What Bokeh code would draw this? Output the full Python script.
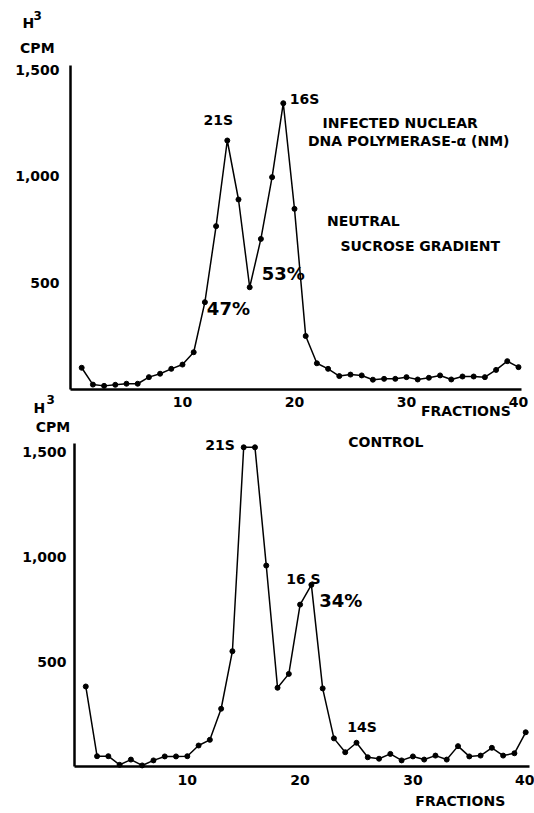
from bokeh.plotting import figure
from bokeh.models import Range1d, FixedTicker, NumeralTickFormatter, Label
from bokeh.layouts import column
from bokeh.embed import file_html
from bokeh.resources import INLINE

# ---------------- data ----------------
fractions = list(range(1, 41))

infected_cpm = [102, 23, 17, 22, 27, 27, 58, 74, 97, 117,
                175, 410, 767, 1169, 892, 480, 707, 997, 1344, 848,
                251, 123, 97, 63, 70, 66, 46, 50, 50, 58,
                47, 55, 66, 47, 61, 61, 58, 92, 133, 105]

control_cpm = [381, 49, 49, 8, 33, 5, 29, 48, 48, 49,
               100, 127, 275, 549, 1520, 1520, 957, 375, 441, 771,
               865, 372, 134, 68, 113, 44, 37, 60, 29, 48,
               33, 52, 33, 97, 48, 52, 89, 52, 63, 163]

x_ticks = [10, 20, 30, 40]
y_ticks = [500, 1000, 1500]

FONT = "DejaVu Sans"


def make_fig(height, xr, yr, xbounds, ybounds, ystandoff):
    # the frame fills the whole canvas; axes are pinned at the data origin
    p = figure(width=534, height=height,
               x_range=Range1d(*xr), y_range=Range1d(*yr),
               output_backend="svg", toolbar_location=None,
               min_border=0, min_border_left=0, min_border_right=0,
               min_border_top=0, min_border_bottom=0)
    p.xgrid.visible = False
    p.ygrid.visible = False
    p.outline_line_color = None
    p.background_fill_color = "white"
    p.border_fill_color = "white"
    for ax in (p.xaxis[0], p.yaxis[0]):
        ax.fixed_location = 0
        ax.axis_line_width = 2.5
        ax.axis_line_color = "black"
        ax.major_tick_line_color = None
        ax.minor_tick_line_color = None
        ax.major_tick_out = 0
        ax.major_tick_in = 0
        ax.major_label_text_font = FONT
        ax.major_label_text_font_size = "14px"
        ax.major_label_text_font_style = "bold"
        ax.major_label_text_color = "black"
    p.xaxis[0].bounds = xbounds
    p.yaxis[0].bounds = ybounds
    p.xaxis.ticker = FixedTicker(ticks=x_ticks)
    p.yaxis.ticker = FixedTicker(ticks=y_ticks)
    p.yaxis.formatter = NumeralTickFormatter(format="0,0")
    p.xaxis.major_label_standoff = 8
    p.yaxis.major_label_standoff = ystandoff
    return p


def add_label(p, x, y, text, size="14px", align="center", style="bold"):
    p.add_layout(Label(x=x, y=y, text=text, text_font=FONT,
                       text_font_size=size, text_font_style=style,
                       text_color="black", text_align=align,
                       text_baseline="middle"))


# ---------------- top panel ----------------
top = make_fig(434, (-6.25, 41.43), (-211.3, 1826.3), (0, 40.3), (0, 1521), 11)
top.line(fractions, infected_cpm, line_width=1.5, color="black")
top.scatter(fractions, infected_cpm, size=5, color="black")

add_label(top, 13.2, 1263, "21S")
add_label(top, 20.9, 1366, "16S")
add_label(top, 22.5, 1249, "INFECTED NUCLEAR", align="left")
add_label(top, 21.2, 1169, "DNA POLYMERASE-\u03b1 (NM)", align="left")
add_label(top, 22.9, 789, "NEUTRAL", align="left")
add_label(top, 24.1, 676, "SUCROSE  GRADIENT", align="left")
add_label(top, 19.0, 545, "53%", size="18px")
add_label(top, 14.1, 380, "47%", size="18px")
# y-axis heading "H3 CPM" of the upper panel
add_label(top, -4.29, 1723, "H", align="left")
add_label(top, -3.3, 1756, "3", size="12px", align="left")
add_label(top, -4.5, 1601, "CPM", align="left")
add_label(top, 35.3, -103, "FRACTIONS")
# y-axis heading of the lower panel (sits in the strip above it)
add_label(top, -3.3, -89, "H", align="left")
add_label(top, -2.14, -47, "3", size="12px", align="left")
add_label(top, -3.1, -178, "CPM", align="left")

# ---------------- bottom panel ----------------
bot = make_fig(379, (-6.56, 40.78), (-223.8, 1581), (0, 40.3), (0, 1538), 8)
bot.line(fractions, control_cpm, line_width=1.5, color="black")
bot.scatter(fractions, control_cpm, size=5, color="black")

add_label(bot, 12.9, 1533, "21S")
add_label(bot, 27.6, 1543, "CONTROL")
add_label(bot, 20.3, 895, "16 S")
add_label(bot, 23.6, 790, "34%", size="18px")
add_label(bot, 25.5, 186, "14S")
add_label(bot, 34.2, -162, "FRACTIONS")

layout = column(top, bot, spacing=0)

open("out.html", "w").write(file_html(layout, INLINE))
